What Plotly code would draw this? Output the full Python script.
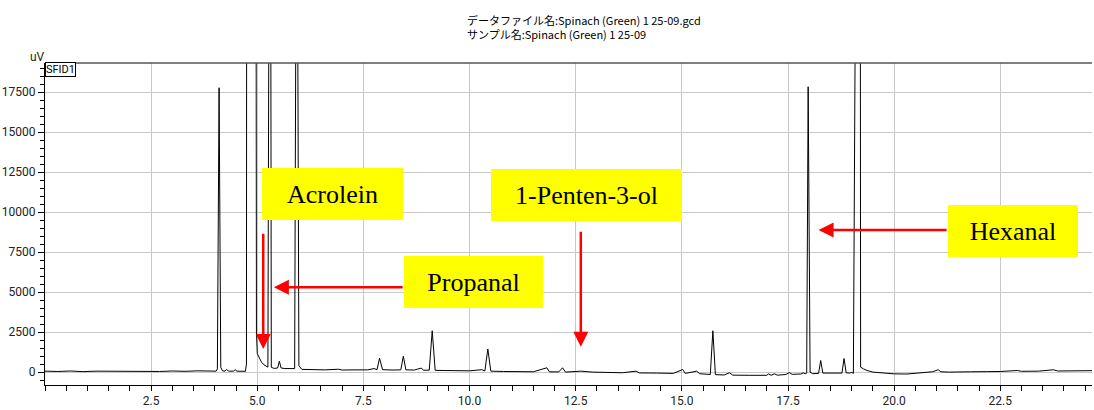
import plotly.graph_objects as go

# ---- data (retention time in min, signal in uV) ----
time_min = [
    0.00, 0.30, 0.60, 0.90, 1.20, 1.50, 1.80, 2.10, 2.40, 2.70, 3.00, 3.30, 3.60, 3.90, 4.03,
    4.06, 4.10, 4.14, 4.18, 4.24, 4.28, 4.32, 4.44, 4.48, 4.52, 4.72,
    4.745, 4.75, 4.86, 4.97, 4.98, 5.00, 5.05, 5.10, 5.16, 5.22, 5.25,
    5.27, 5.295, 5.32, 5.33, 5.40, 5.48, 5.52, 5.56, 5.65, 5.80, 5.88,
    5.905, 5.93, 5.955, 5.98, 6.05, 6.30, 6.60, 6.91, 7.00, 7.30, 7.60, 7.75, 7.82,
    7.88, 7.95, 8.20, 8.38, 8.44, 8.50, 8.70, 8.86, 8.92, 9.05, 9.12, 9.19, 9.40, 9.70,
    10.00, 10.29, 10.36, 10.43, 10.50, 10.80, 11.20, 11.50, 11.82, 11.88, 12.10, 12.19,
    12.26, 12.62, 12.90, 13.30, 13.60, 13.92, 14.00, 14.40, 14.80, 15.02, 15.08, 15.35,
    15.42, 15.67, 15.73, 15.79, 16.00, 16.12, 16.20, 16.60, 17.00, 17.04, 17.10, 17.18,
    17.25, 17.45, 17.53, 17.60, 17.80, 17.86, 17.92,
    17.94, 17.975, 18.02, 18.08, 18.22, 18.27, 18.32, 18.60, 18.77, 18.82, 18.87, 18.95,
    19.00, 19.04, 19.08, 19.14, 19.19, 19.21, 19.28, 19.36, 19.50, 19.80, 19.90, 20.00,
    20.30, 20.69, 20.90, 21.04, 21.10, 21.30, 21.55, 21.80, 22.18, 22.50, 22.90, 23.00,
    23.40, 23.75, 23.85, 24.20, 24.66,
]
signal_uV = [
    60, 40, 70, 30, 60, 50, 80, 40, 60, 40, 70, 50, 80, 60, 60,
    200, 17780, 300, 80, 60, 170, 60, 60, 150, 60, 50,
    500, 30000, 400000, 30000, 2500, 1150, 850, 620, 450, 330, 310,
    20000, 200000, 20000, 300, 230, 260, 680, 260, 220, 200, 220,
    20000, 200000, 20000, 400, 170, 150, 140, 180, 130, 140, 140, 220, 150,
    870, 150, 130, 140, 990, 140, 130, 250, 120, 120, 2585, 110, 100, 90,
    80, 150, 70, 1445, 60, 40, 30, 20, 270, 20, 10, 270,
    0, 60, 0, -20, -40, 60, -50, -60, -80, 165, -80, 60,
    -100, -150, 2585, -160, -180, -40, -190, -200, -200, -110, -200, -110,
    -190, -150, -30, -140, -120, -50, -110,
    -50, 17840, 0, -100, -80, 725, -60, -80, -60, 850, -40, -60,
    -20, -80, 20000, 250000, 20000, 310, 200, 105, 0, -60, -80, -110,
    -120, 0, 20, 145, 20, 0, 30, 20, 30, 40, 100, 50,
    60, 145, 70, 80, 90,
]

x_tick_vals = [2.5, 5.0, 7.5, 10.0, 12.5, 15.0, 17.5, 20.0, 22.5]
x_tick_text = ["2.5", "5.0", "7.5", "10.0", "12.5", "15.0", "17.5", "20.0", "22.5"]
y_tick_vals = [0, 2500, 5000, 7500, 10000, 12500, 15000, 17500]
y_tick_text = ["0", "2500", "5000", "7500", "10000", "12500", "15000", "17500"]

# compound labels: label, box centre (x, y), arrow tip (x, y), arrow tail (x, y), box width
label_text = ["Acrolein", "1-Penten-3-ol", "Propanal", "Hexanal"]
label_x = [6.77, 12.76, 10.09, 22.80]
label_y = [11160, 11100, 5640, 8800]
label_w = [141, 191, 139, 130]
arrow_tip_x = [5.14, 12.62, 5.39, 18.22]
arrow_tip_y = [1440, 1590, 5310, 8880]
arrow_tail_x = [5.14, 12.62, 8.46, 21.27]
arrow_tail_y = [8740, 8870, 5310, 8880]

title_lines = ["データファイル名:Spinach (Green) 1 25-09.gcd", "サンプル名:Spinach (Green) 1 25-09"]

tick_font = dict(family="Liberation Sans Narrow, Arial Narrow, Roboto, sans-serif", size=12, color="#222")

fig = go.Figure()
fig.add_trace(go.Scatter(x=time_min, y=signal_uV, mode="lines",
                         line=dict(color="black", width=1), hoverinfo="skip",
                         showlegend=False))

for tx, ty, ax, ay in zip(arrow_tip_x, arrow_tip_y, arrow_tail_x, arrow_tail_y):
    fig.add_annotation(x=tx, y=ty, ax=ax, ay=ay, xref="x", yref="y", axref="x", ayref="y",
                       text="", showarrow=True, arrowhead=2, arrowsize=1.2, arrowwidth=2.5,
                       arrowcolor="#ff0000", standoff=0, startstandoff=0)

for t, x, y, w in zip(label_text, label_x, label_y, label_w):
    fig.add_annotation(x=x, y=y, xref="x", yref="y", text=t, showarrow=False,
                       bgcolor="#ffff00", width=w, height=52, borderpad=0, borderwidth=0,
                       font=dict(family="Liberation Serif, Times New Roman, serif", size=26, color="black"),
                       xanchor="center", yanchor="middle")

fig.add_annotation(x=0.401, y=1.166, xref="paper", yref="paper", xanchor="left", yanchor="top",
                   text="<br>".join(title_lines), align="left", showarrow=False,
                   font=dict(family="Noto Sans CJK JP", size=11, color="black"))

fig.add_annotation(x=0, y=1.0, xref="paper", yref="paper", xanchor="right", yanchor="bottom",
                   text="uV", showarrow=False, xshift=2, yshift=-3,
                   font=dict(family="Liberation Sans Narrow, Arial Narrow, Roboto, sans-serif", size=12, color="#222"))

fig.add_annotation(x=0, y=1.0, xref="paper", yref="paper", xanchor="left", yanchor="top",
                   text="SFID1", showarrow=False, bgcolor="white", bordercolor="black",
                   borderwidth=1, borderpad=0, yshift=1,
                   font=dict(family="Liberation Sans Narrow, Arial Narrow, Roboto, sans-serif", size=11, color="black"))

fig.add_shape(type="line", xref="paper", yref="paper", x0=0, x1=1, y0=1, y1=1,
              line=dict(color="#555555", width=1.5))

fig.update_xaxes(range=[0, 24.66], tickmode="array", tickvals=x_tick_vals, ticktext=x_tick_text,
                 ticks="outside", ticklen=5, tickcolor="black", showline=True, linecolor="black",
                 linewidth=1, showgrid=True, gridcolor="#c8c8c8", gridwidth=1, zeroline=False,
                 tickfont=tick_font,
                 minor=dict(tickmode="linear", tick0=0, dtick=0.5, ticks="outside", ticklen=5,
                            tickcolor="black", showgrid=False))
fig.update_yaxes(range=[-806, 19325], tickmode="array", tickvals=y_tick_vals, ticktext=y_tick_text,
                 ticks="outside", ticklen=6, tickcolor="black", showline=True, linecolor="black",
                 linewidth=1, showgrid=True, gridcolor="#c8c8c8", gridwidth=1, zeroline=False,
                 tickfont=tick_font,
                 minor=dict(tickmode="linear", tick0=0, dtick=500, ticks="outside", ticklen=4,
                            tickcolor="black", showgrid=False))

fig.update_layout(width=1094, height=410, margin=dict(l=45, r=2, t=63, b=22),
                  plot_bgcolor="white", paper_bgcolor="white", showlegend=False)

fig.write_html("out.html")
